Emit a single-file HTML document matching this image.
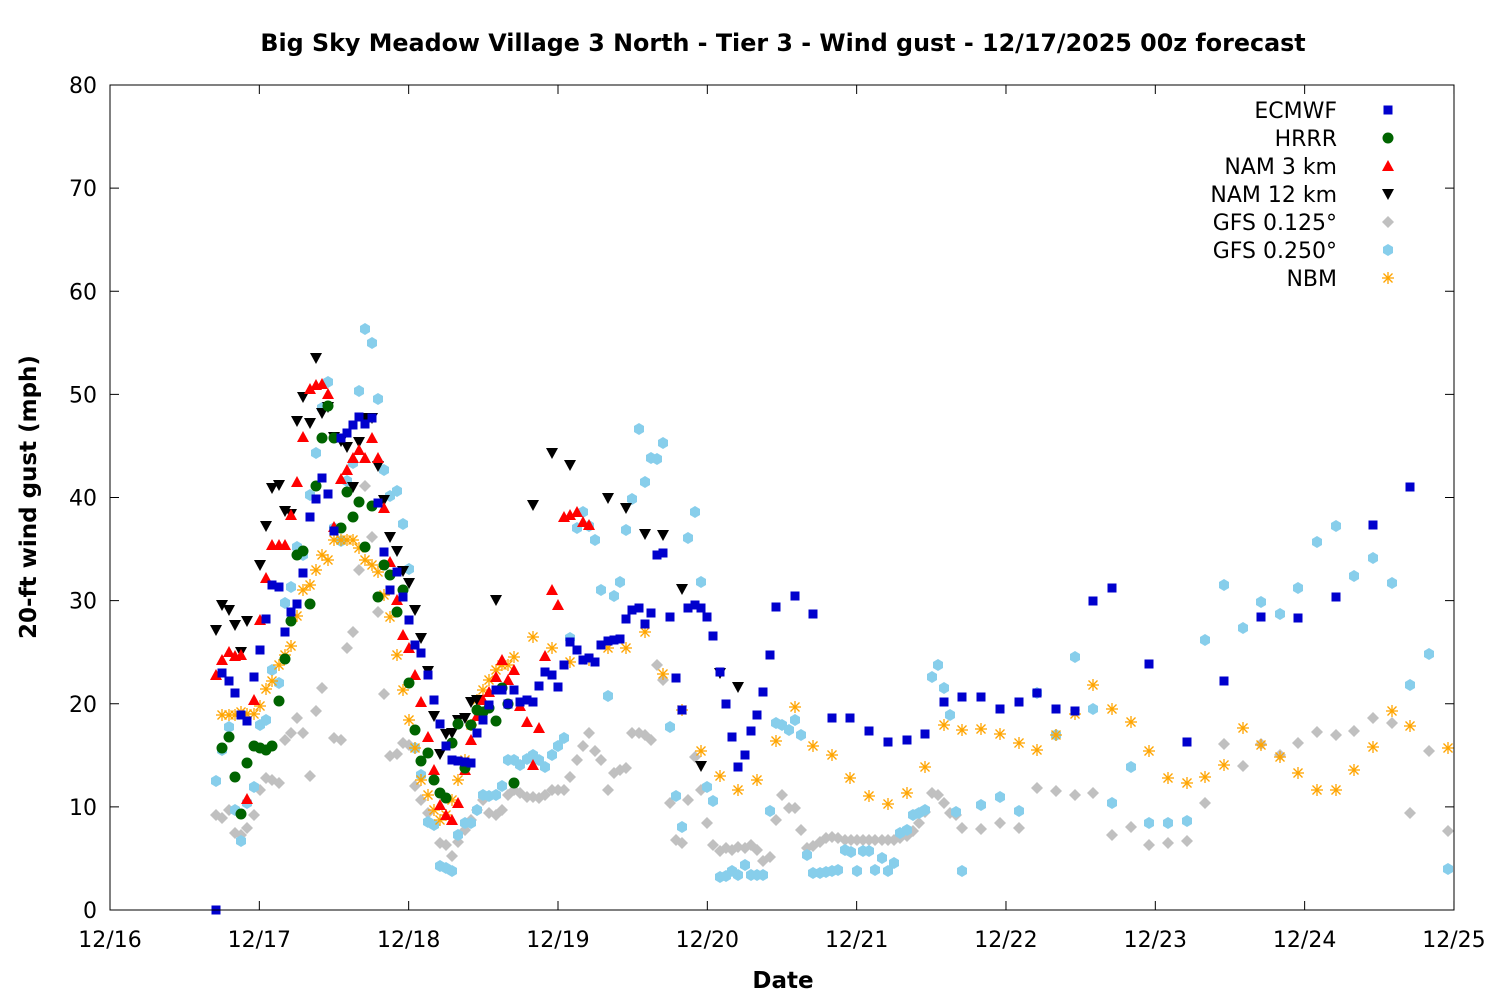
<!DOCTYPE html>
<html><head><meta charset="utf-8"><style>
body{margin:0;background:#fff}
svg{display:block;font-family:"DejaVu Sans","Liberation Sans",sans-serif}
</style></head><body>
<svg id="s" width="1500" height="1000" xmlns="http://www.w3.org/2000/svg">
<rect width="1500" height="1000" fill="#fff"/>
<text x="783" y="51" text-anchor="middle" font-size="23.8" font-weight="bold">Big Sky Meadow Village 3 North - Tier 3 - Wind gust - 12/17/2025 00z forecast</text>
<text x="783" y="988" text-anchor="middle" font-size="23" font-weight="bold">Date</text>
<text transform="translate(36,497) rotate(-90)" text-anchor="middle" font-size="23" font-weight="bold">20-ft wind gust (mph)</text>
<g id="ax"></g>
<g id="pts"></g>
<g id="leg" font-size="22" text-anchor="end"></g>
<rect x="110" y="85" width="1344" height="825" fill="none" stroke="#000" stroke-width="1"/>
</svg>
<script>
var ns="http://www.w3.org/2000/svg";
function el(t,a,p){var e=document.createElementNS(ns,t);for(var k in a)e.setAttribute(k,a[k]);(p||document.getElementById('pts')).appendChild(e);return e;}
var ax=document.getElementById('ax');
for(var i=0;i<=8;i++){var y=910-i*103.125;
el('line',{x1:110,y1:y,x2:119,y2:y,stroke:'#000'},ax);el('line',{x1:1454,y1:y,x2:1445,y2:y,stroke:'#000'},ax);
var t=el('text',{x:97,y:y+8,'text-anchor':'end','font-size':22},ax);t.textContent=i*10;}
var days=['12/16','12/17','12/18','12/19','12/20','12/21','12/22','12/23','12/24','12/25'];
for(var i=0;i<=9;i++){var x=110+i*149.33;
el('line',{x1:x,y1:910,x2:x,y2:901,stroke:'#000'},ax);el('line',{x1:x,y1:85,x2:x,y2:94,stroke:'#000'},ax);
var t=el('text',{x:x,y:947,'text-anchor':'middle','font-size':22},ax);t.textContent=days[i];}
function P(s){return s.match(/-?\d+/g).map(Number);}
function mk(type,c,x,y,g){g=g||document.getElementById('pts');
if(type=='sq')el('rect',{x:x-4.5,y:y-4.5,width:9,height:9,fill:c},g);
else if(type=='ci')el('circle',{cx:x,cy:y,r:5.5,fill:c},g);
else if(type=='tu')el('polygon',{points:(x)+','+(y-6)+' '+(x-6)+','+(y+5)+' '+(x+6)+','+(y+5),fill:c},g);
else if(type=='td')el('polygon',{points:(x)+','+(y+6)+' '+(x-6)+','+(y-5)+' '+(x+6)+','+(y-5),fill:c},g);
else if(type=='di')el('polygon',{points:x+','+(y-6)+' '+(x+6)+','+y+' '+x+','+(y+6)+' '+(x-6)+','+y,fill:c},g);
else if(type=='hx')el('polygon',{points:(x-5)+','+(y-3)+' '+x+','+(y-6)+' '+(x+5)+','+(y-3)+' '+(x+5)+','+(y+3)+' '+x+','+(y+6)+' '+(x-5)+','+(y+3),fill:c},g);
else if(type=='st'){['M'+(x-6)+' '+y+'H'+(x+6),'M'+x+' '+(y-6)+'V'+(y+6),'M'+(x-4.5)+' '+(y-4.5)+'L'+(x+4.5)+' '+(y+4.5),'M'+(x-4.5)+' '+(y+4.5)+'L'+(x+4.5)+' '+(y-4.5)].forEach(function(d){el('path',{d:d,stroke:c,'stroke-width':1.3},g)});}
}
var S=[
['GFS 0.125°','di','#c0c0c0',"216,815 222,818 229,810 235,833 241,835 247,828 254,815 260,790 266,778 272,780 279,783 285,740 291,733 297,718 303,733 310,776 316,711 322,688 334,738 341,740 347,648 353,632 359,570 365,486 372,537 378,612 384,694 390,756 397,754 403,743 409,745 415,786 421,800 428,813 434,825 440,843 446,845 452,856 458,842 465,830 471,820 477,810 483,800 489,813 496,815 502,810 508,795 514,790 520,793 527,797 533,797 539,798 545,795 552,790 558,790 564,790 570,777 577,760 583,746 589,733 595,751 601,760 608,790 614,773 620,770 626,768 632,733 639,733 645,735 651,740 657,665 663,680 670,803 676,840 682,843 688,800 695,757 701,790 707,823 713,845 720,851 726,848 732,850 738,847 745,848 751,845 757,850 763,861 770,857 776,820 782,795 789,808 795,808 801,830 807,848 813,846 820,842 826,838 832,837 838,838 845,840 851,840 857,840 863,840 869,840 875,840 882,840 888,840 894,840 900,838 907,836 913,831 919,823 925,812 932,793 938,795 944,803 950,813 956,815 962,828 981,829 1000,823 1019,828 1037,788 1056,791 1075,795 1093,793 1112,835 1131,827 1149,845 1168,843 1187,841 1205,803 1224,744 1243,766 1261,744 1280,755 1298,743 1317,732 1336,735 1354,731 1373,718 1392,723 1410,813 1429,751 1448,831"],
['GFS 0.250°','hx','#87ceeb',"216,781 222,750 229,727 235,810 241,841 247,803 254,787 260,725 266,720 272,670 279,683 285,603 291,587 297,547 303,555 310,495 316,453 322,408 328,382 334,528 341,541 347,481 353,463 359,391 365,329 372,343 378,399 384,470 390,496 397,491 403,524 409,569 415,748 421,775 428,822 434,825 440,866 446,868 452,871 458,835 465,823 471,823 477,810 483,795 489,796 496,795 502,786 508,760 514,760 520,765 527,759 533,755 539,760 545,767 552,755 558,746 564,738 570,638 577,528 583,512 589,526 595,540 601,590 608,696 614,596 620,582 626,530 632,499 639,429 645,482 651,458 657,459 663,443 670,727 676,796 682,827 688,538 695,512 701,582 707,787 713,801 720,877 726,876 732,871 738,875 745,865 751,875 757,875 763,875 770,811 776,723 782,725 789,730 795,720 801,735 807,855 813,873 820,873 826,872 832,871 838,870 845,850 851,852 857,871 863,851 869,851 875,870 882,858 888,871 894,863 900,833 907,830 913,815 919,813 925,810 932,677 938,665 944,688 950,715 956,812 962,871 981,805 1000,797 1019,811 1037,693 1056,735 1075,657 1093,709 1112,803 1131,767 1149,823 1168,823 1187,821 1205,640 1224,585 1243,628 1261,602 1280,614 1298,588 1317,542 1336,526 1354,576 1373,558 1392,583 1410,685 1429,654 1448,869"],
['NBM','st','#ffa500',"222,715 229,715 235,715 241,712 247,714 254,714 260,706 266,689 272,681 279,665 285,655 291,646 297,616 303,590 310,585 316,570 322,555 328,560 334,540 341,540 347,540 353,540 359,548 365,560 372,565 378,572 384,595 390,617 397,655 403,690 409,720 415,748 421,780 428,795 434,810 440,820 446,815 452,800 458,780 465,760 471,725 477,700 483,690 489,680 496,670 502,665 508,665 514,657 533,637 552,648 570,662 589,660 608,648 626,648 645,632 663,674 682,710 701,751 720,776 738,790 757,780 776,741 795,707 813,746 832,755 850,778 869,796 888,804 907,793 925,767 944,725 962,730 981,729 1000,734 1019,743 1037,750 1056,735 1075,714 1093,685 1112,709 1131,722 1149,751 1168,778 1187,783 1205,777 1224,765 1243,728 1261,745 1280,757 1298,773 1317,790 1336,790 1354,770 1373,747 1392,711 1410,726 1448,748"],
['NAM 12 km','td','#000',"216,630 222,605 229,610 235,625 241,652 247,621 260,565 266,526 272,488 279,485 285,511 291,514 297,421 303,397 310,423 316,358 322,413 328,407 334,437 341,441 347,447 353,487 359,442 365,418 372,418 378,466 384,500 390,537 397,551 403,571 409,583 415,610 421,638 428,671 434,716 440,754 446,734 452,733 458,720 465,718 471,702 477,700 496,600 533,505 552,453 570,465 608,498 626,508 645,534 663,535 682,589 701,766 720,673 738,687"],
['NAM 3 km','tu','#f00',"216,675 222,660 229,652 235,656 241,655 247,799 254,700 260,620 266,578 272,545 279,545 285,545 291,515 297,482 303,437 310,389 316,385 322,384 328,394 334,527 341,479 347,470 353,458 359,450 365,458 372,438 378,458 384,508 390,562 397,600 403,635 409,648 415,675 421,702 428,737 434,770 440,805 446,815 452,820 458,803 465,770 471,740 477,716 483,700 489,692 496,677 502,660 508,680 514,670 520,706 527,722 533,765 539,728 545,656 552,590 558,605 564,517 570,515 577,512 583,522 589,525"],
['HRRR','ci','#006400',"222,748 229,737 235,777 241,814 247,763 254,746 260,748 266,750 272,746 279,701 285,659 291,621 297,555 303,551 310,604 316,486 322,438 328,406 334,438 341,528 347,492 353,517 359,502 365,547 372,506 378,597 384,565 390,575 397,612 403,590 409,683 415,730 421,761 428,753 434,780 440,793 446,798 452,743 458,724 465,768 471,725 477,710 483,712 489,708 496,721 502,688 508,704 514,783"],
['ECMWF','sq','#0000cd',"216,910 222,673 229,681 235,693 241,715 247,721 254,677 260,650 266,619 272,585 279,587 285,632 291,612 297,604 303,573 310,517 316,499 322,478 328,494 334,531 341,438 347,433 353,425 359,417 365,424 372,418 378,503 384,552 390,590 397,572 403,597 409,620 415,645 421,653 428,675 434,700 440,724 446,746 452,760 458,761 465,762 471,763 477,733 483,720 489,705 496,690 502,690 508,704 514,690 520,702 527,700 533,702 539,686 545,672 552,675 558,687 564,665 570,642 577,650 583,660 589,658 595,662 601,645 608,641 614,640 620,639 626,619 632,610 639,608 645,624 651,613 657,555 663,553 670,617 676,678 682,710 688,608 695,605 701,608 707,617 713,636 720,672 726,704 732,737 738,767 745,755 751,731 757,715 763,692 770,655 776,607 795,596 813,614 832,718 850,718 869,731 888,742 907,740 925,734 944,702 962,697 981,697 1000,709 1019,702 1037,693 1056,709 1075,711 1093,601 1112,588 1149,664 1187,742 1224,681 1261,617 1298,618 1336,597 1373,525 1410,487"]
];
S.forEach(function(s){var a=P(s[3]);for(var i=0;i<a.length;i+=2)mk(s[1],s[2],a[i],a[i+1]);});
var order=['ECMWF','HRRR','NAM 3 km','NAM 12 km','GFS 0.125°','GFS 0.250°','NBM'];
var leg=document.getElementById('leg');
order.forEach(function(n,i){var s=S.filter(function(q){return q[0]==n})[0];var y=110+i*28;
var t=el('text',{x:1337,y:y+8},leg);t.textContent=n;mk(s[1],s[2],1388,y,leg);});
</script>
</body></html>
